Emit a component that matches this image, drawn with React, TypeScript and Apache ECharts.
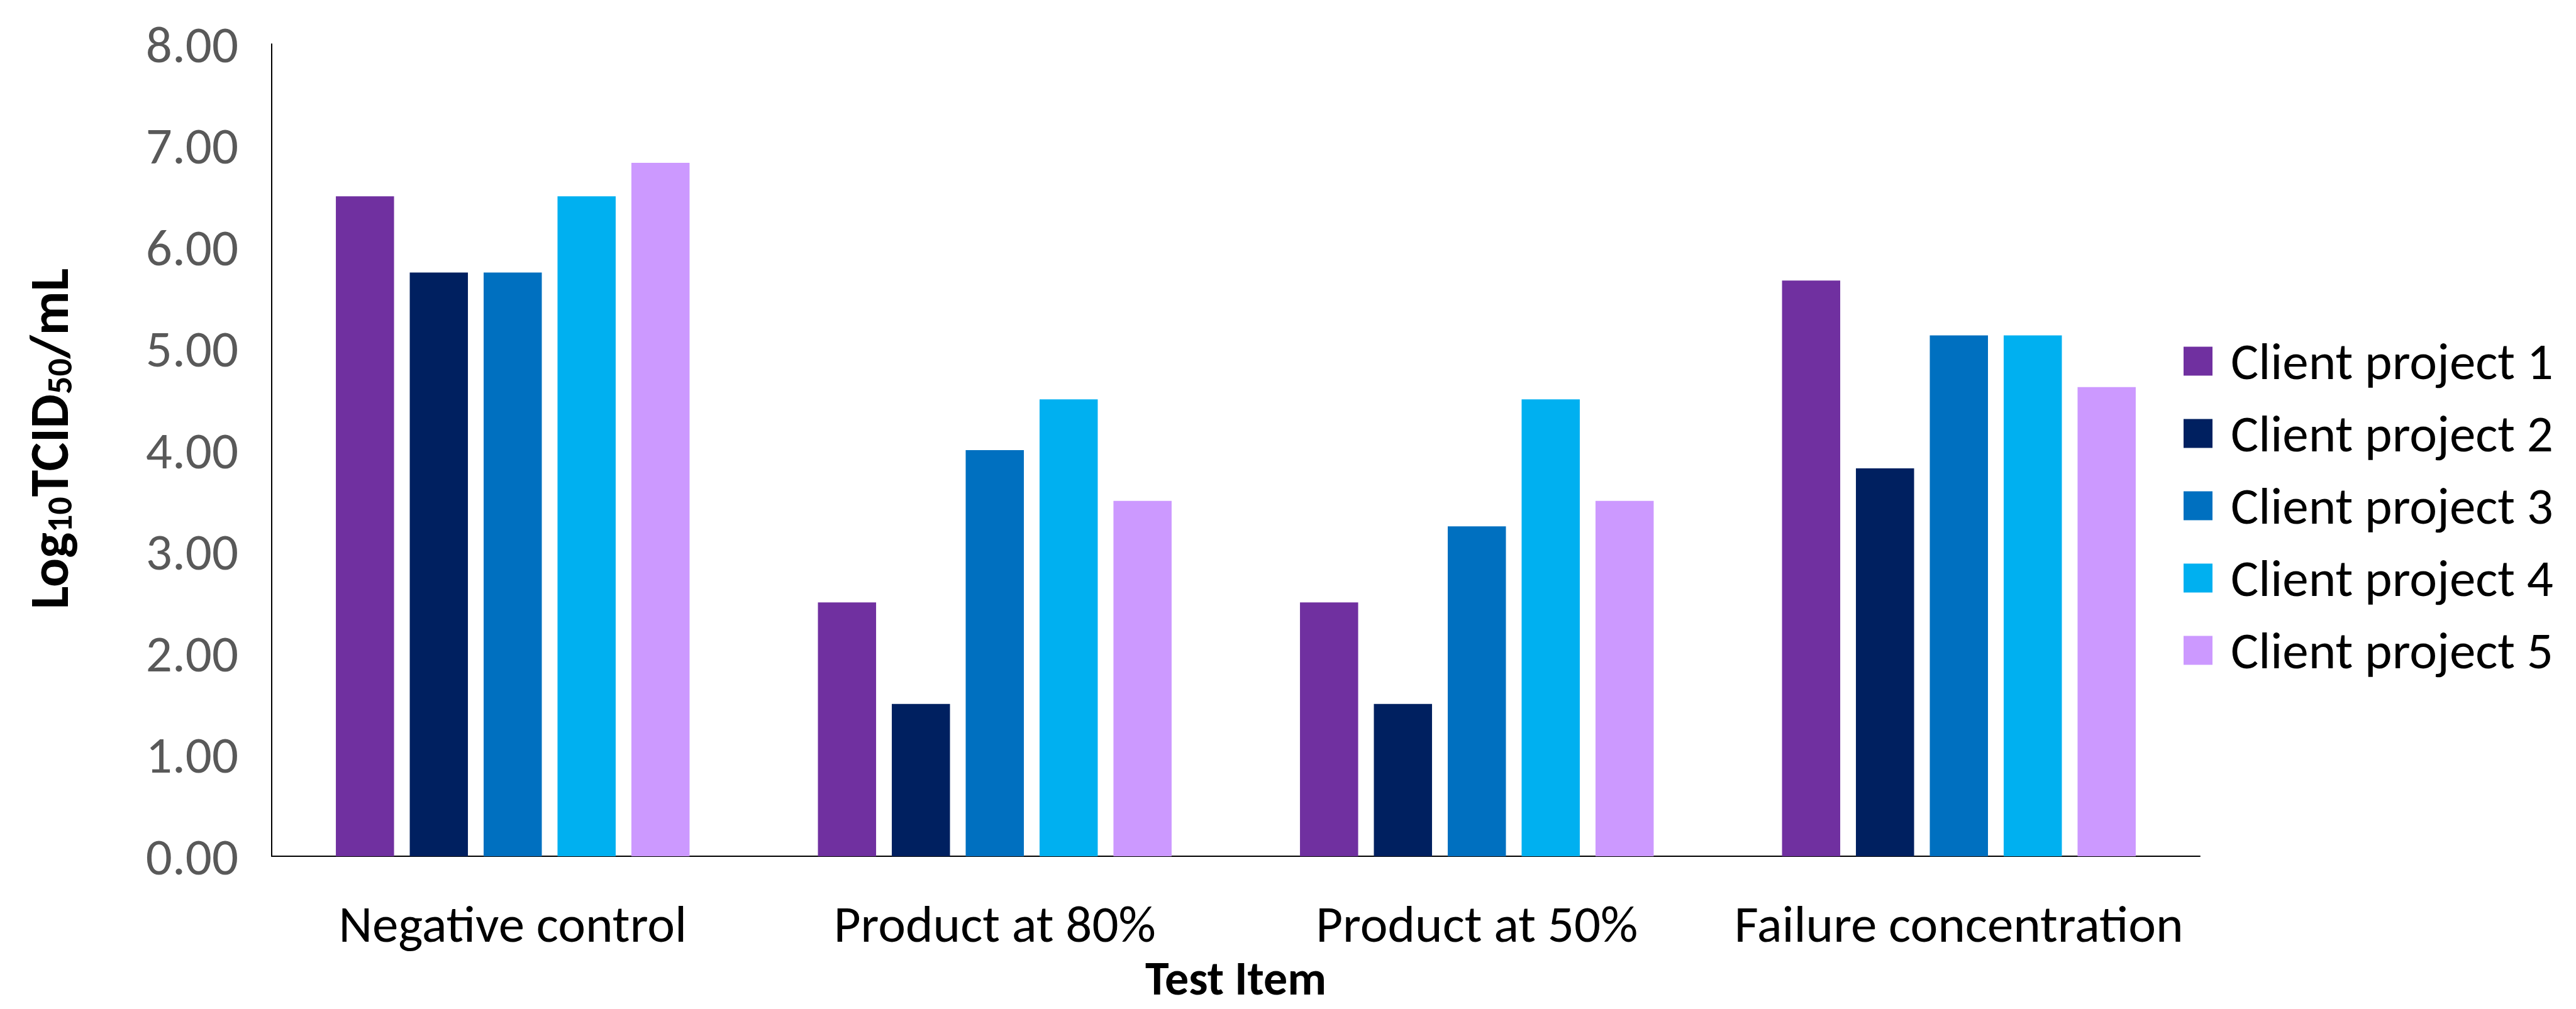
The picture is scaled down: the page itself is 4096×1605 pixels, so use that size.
import React, { useEffect, useRef } from "react";
import * as echarts from "echarts";

const categories = ["Negative control", "Product at 80%", "Product at 50%", "Failure concentration"];
const seriesNames = ["Client project 1", "Client project 2", "Client project 3", "Client project 4", "Client project 5"];
const project1 = [6.5, 2.5, 2.5, 5.67];
const project2 = [5.75, 1.5, 1.5, 3.82];
const project3 = [5.75, 4.0, 3.25, 5.13];
const project4 = [6.5, 4.5, 4.5, 5.13];
const project5 = [6.83, 3.5, 3.5, 4.62];
const seriesValues = [project1, project2, project3, project4, project5];
const colors = ["#7030A0", "#002060", "#0070C0", "#00B0F0", "#CC99FF"];
const yTicks = { min: 0, max: 8, interval: 1 };

const FONT = "Carlito, Calibri, 'Open Sans', sans-serif";

export default function App() {
  const ref = useRef<HTMLDivElement>(null);
  useEffect(() => {
    document.body.style.margin = "0";
    const chart = echarts.init(ref.current!, null, { renderer: "svg" });
    const option: any = {
      animation: false,
      backgroundColor: "#ffffff",
      grid: { left: 432, top: 70, right: 598, bottom: 243, containLabel: false },
      legend: {
        orient: "vertical",
        left: 3467,
        top: 528,
        itemWidth: 46,
        itemHeight: 46,
        itemGap: 32,
        icon: "rect",
        textStyle: { fontFamily: FONT, fontSize: 83, color: "#000000", padding: [0, 0, 0, 24] },
        data: seriesNames,
      },
      xAxis: {
        type: "category",
        data: categories,
        axisLine: { lineStyle: { color: "#000000", width: 2 } },
        axisTick: { show: false },
        axisLabel: { fontFamily: FONT, fontSize: 83, color: "#000000", margin: 66, interval: 0 },
        splitLine: { show: false },
      },
      yAxis: {
        type: "value",
        min: yTicks.min,
        max: yTicks.max,
        interval: yTicks.interval,
        axisLine: { show: true, lineStyle: { color: "#000000", width: 2 } },
        axisTick: { show: false },
        splitLine: { show: false },
        axisLabel: {
          fontFamily: FONT,
          fontSize: 83,
          color: "#595959",
          margin: 53,
          formatter: (v: number) => v.toFixed(2),
        },
      },
      series: seriesNames.map((name, i) => ({
        name,
        type: "bar",
        data: seriesValues[i],
        barWidth: 92.5,
        barGap: "27%",
        itemStyle: { color: colors[i] },
      })),
      graphic: [
        {
          type: "text",
          x: 1965,
          y: 1556,
          style: {
            text: "Test Item",
            fontFamily: FONT,
            fontSize: 76,
            fontWeight: "bold",
            fill: "#000000",
            align: "center",
            verticalAlign: "middle",
          },
        },
        {
          type: "text",
          x: 78,
          y: 698,
          rotation: Math.PI / 2,
          style: {
            text: "{m|Log}{s|10}{m|TCID}{s|50}{m|/mL}",
            align: "center",
            verticalAlign: "middle",
            fill: "#000000",
            rich: {
              m: { fontFamily: FONT, fontSize: 86, fontWeight: "bold", fill: "#000000" },
              s: { fontFamily: FONT, fontSize: 56, fontWeight: "bold", fill: "#000000", padding: [34, 0, 0, 0] },
            },
          },
        },
      ],
    };
    chart.setOption(option);
    return () => chart.dispose();
  }, []);
  return (
    <div
      ref={ref}
      style={{ position: "fixed", left: 0, top: 0, width: 4096, height: 1605, background: "#fff" }}
    />
  );
}
